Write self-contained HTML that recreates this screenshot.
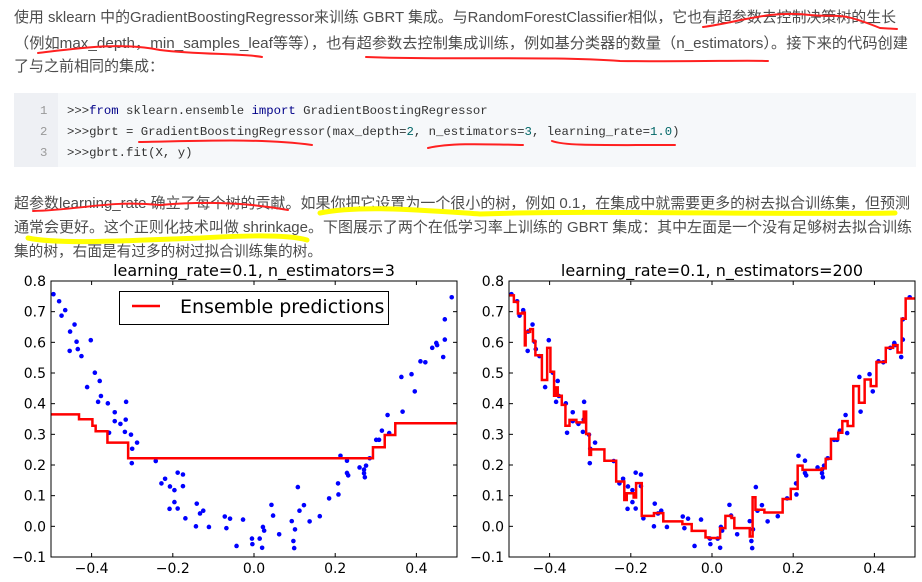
<!DOCTYPE html>
<html><head><meta charset="utf-8">
<style>
html,body{margin:0;padding:0;background:#fff;}
svg{display:block;}
.cn{font-family:"Liberation Sans","Noto Sans CJK SC",sans-serif;font-size:15px;fill:#4d4d4d;}
.code{font-family:"Liberation Mono","DejaVu Sans Mono",monospace;font-size:12.3px;fill:#333;}
.ln{font-family:"Liberation Mono",monospace;font-size:12.3px;fill:#999;}
.tick{font-family:"DejaVu Sans","Liberation Sans",sans-serif;font-size:14px;fill:#000;}
.ttl{font-family:"DejaVu Sans","Liberation Sans",sans-serif;font-size:16px;fill:#000;}
</style></head>
<body>
<svg id="page" width="922" height="582" viewBox="0 0 922 582" xmlns="http://www.w3.org/2000/svg">
  <rect width="922" height="582" fill="#fff"/>
  <g>
    <text class="cn" x="14" y="22" textLength="882" lengthAdjust="spacingAndGlyphs">使用 sklearn 中的GradientBoostingRegressor来训练 GBRT 集成。与RandomForestClassifier相似，它也有超参数去控制决策树的生长</text>
    <text class="cn" x="14" y="48" textLength="894" lengthAdjust="spacingAndGlyphs">（例如max_depth，min_samples_leaf等等），也有超参数去控制集成训练，例如基分类器的数量（n_estimators）。接下来的代码创建</text>
    <text class="cn" x="14" y="71">了与之前相同的集成：</text>
  </g>
  <g>
    <rect x="14" y="93" width="902" height="74" fill="#f6f8fa"/>
    <rect x="14" y="93" width="44" height="74" fill="#eef0f4"/>
    <text class="ln" x="40" y="114">1</text>
    <text class="ln" x="40" y="135">2</text>
    <text class="ln" x="40" y="156">3</text>
    <text class="code" x="67" y="114">&gt;&gt;&gt;<tspan fill="#000088">from</tspan> sklearn.ensemble <tspan fill="#000088">import</tspan> GradientBoostingRegressor</text>
    <text class="code" x="67" y="135">&gt;&gt;&gt;gbrt = GradientBoostingRegressor(max_depth=<tspan fill="#006666">2</tspan>, n_estimators=<tspan fill="#006666">3</tspan>, learning_rate=<tspan fill="#006666">1.0</tspan>)</text>
    <text class="code" x="67" y="156">&gt;&gt;&gt;gbrt.fit(X, y)</text>
  </g>
  <g>
    <text class="cn" x="14" y="208" textLength="896" lengthAdjust="spacingAndGlyphs">超参数learning_rate 确立了每个树的贡献。如果你把它设置为一个很小的树，例如 0.1，在集成中就需要更多的树去拟合训练集，但预测</text>
    <text class="cn" x="14" y="232" textLength="898" lengthAdjust="spacingAndGlyphs">通常会更好。这个正则化技术叫做 shrinkage。下图展示了两个在低学习率上训练的 GBRT 集成：其中左面是一个没有足够树去拟合训练</text>
    <text class="cn" x="14" y="256" textLength="308" lengthAdjust="spacingAndGlyphs">集的树，右面是有过多的树过拟合训练集的树。</text>
  </g>
  <g fill="none" stroke-linecap="round">
    <path d="M703,27 C740,22 770,10 810,15 C840,18 835,10 880,28 L897,29" stroke="#ff2020" stroke-width="2"/>
    <path d="M38,53 C80,48 120,42 160,50 C200,55 240,53 262,57" stroke="#ff2020" stroke-width="2"/>
    <path d="M366,57 C450,60 550,56 620,61 C700,62 740,60 768,61" stroke="#ff2020" stroke-width="2"/>
    <path d="M139,142 C200,141 260,138 312,145" stroke="#ff2020" stroke-width="2"/>
    <path d="M428,148 C450,143 480,144 523,145" stroke="#ff2020" stroke-width="2"/>
    <path d="M552,141 C565,146 600,145 675,145" stroke="#ff2020" stroke-width="2"/>
    <path d="M33,211 C80,210 110,200 160,205 C220,200 260,205 288,210" stroke="#ff2020" stroke-width="2"/>
    <path d="M320,213 C360,205 420,210 480,214 C600,210 750,215 895,213" stroke="#ffff00" stroke-width="5"/>
    <path d="M28,238 C60,245 140,240 200,238 C250,235 290,235 307,240" stroke="#ffff00" stroke-width="5"/>
  </g>
  <rect x="0" y="258" width="922" height="324" fill="#fff"/>
  <g id="charts"></g>
</svg>
<script>
const xsData = [-0.494,-0.480,-0.474,-0.465,-0.453,-0.442,-0.437,-0.454,-0.434,-0.425,-0.402,-0.411,-0.392,-0.380,-0.377,-0.384,-0.360,-0.343,-0.343,-0.329,-0.315,-0.316,-0.318,-0.357,-0.303,-0.300,-0.288,-0.301,-0.242,-0.228,-0.219,-0.207,-0.196,-0.188,-0.175,-0.175,-0.196,-0.208,-0.188,-0.169,-0.141,-0.133,-0.125,-0.143,-0.111,-0.072,-0.059,-0.068,-0.043,-0.027,-0.005,-0.004,0.014,0.020,0.022,0.025,0.043,0.047,0.062,0.093,0.097,0.099,0.101,0.108,0.112,0.123,0.137,0.162,0.185,0.208,0.207,0.213,0.229,0.229,0.232,0.260,0.271,0.271,0.273,0.276,0.285,0.301,0.308,0.315,0.333,0.329,0.363,0.366,0.388,0.396,0.410,0.422,0.439,0.449,0.451,0.466,0.470,0.470,0.487];
const ysData = [0.757,0.734,0.687,0.705,0.635,0.658,0.602,0.572,0.578,0.555,0.607,0.454,0.501,0.474,0.425,0.406,0.401,0.372,0.343,0.334,0.406,0.348,0.308,0.305,0.299,0.253,0.273,0.206,0.213,0.140,0.155,0.130,0.118,0.175,0.169,0.131,0.079,0.057,0.058,0.026,0.074,0.042,0.051,0.000,-0.002,0.032,0.025,-0.006,-0.064,0.022,-0.040,-0.058,-0.040,-0.070,-0.002,-0.014,0.070,0.035,-0.026,0.017,-0.048,-0.071,-0.010,0.128,0.051,0.069,0.016,0.033,0.091,0.104,0.140,0.230,0.214,0.174,0.166,0.192,0.185,0.173,0.160,0.198,0.222,0.282,0.282,0.312,0.304,0.363,0.487,0.374,0.496,0.440,0.538,0.535,0.582,0.598,0.591,0.552,0.609,0.675,0.747];
const leftEdges = [-0.431,-0.398,-0.390,-0.361,-0.310,0.293,0.322,0.348];
const leftVals = [0.365,0.349,0.328,0.310,0.273,0.222,0.258,0.298,0.336];
const rightEdges = [-0.488,-0.478,-0.467,-0.461,-0.459,-0.448,-0.441,-0.435,-0.419,-0.406,-0.398,-0.389,-0.384,-0.380,-0.370,-0.361,-0.351,-0.334,-0.316,-0.310,-0.302,-0.298,-0.265,-0.236,-0.216,-0.210,-0.193,-0.187,-0.173,-0.143,-0.120,-0.073,-0.050,-0.016,-0.009,0.020,0.033,0.048,0.055,0.093,0.100,0.107,0.129,0.174,0.194,0.211,0.223,0.270,0.280,0.293,0.311,0.321,0.334,0.348,0.362,0.376,0.391,0.405,0.428,0.446,0.457,0.467,0.477];
const rightVals = [0.753,0.732,0.694,0.697,0.590,0.634,0.643,0.604,0.558,0.477,0.582,0.504,0.426,0.453,0.426,0.396,0.328,0.347,0.339,0.374,0.301,0.233,0.251,0.214,0.146,0.086,0.108,0.094,0.141,0.034,0.043,0.016,0.007,-0.015,-0.036,-0.038,-0.006,0.034,0.027,-0.006,-0.033,0.095,0.054,0.045,0.089,0.122,0.198,0.184,0.189,0.220,0.285,0.305,0.343,0.327,0.457,0.403,0.479,0.457,0.536,0.582,0.591,0.567,0.677,0.743];
const xTicks = [-0.4,-0.2,0.0,0.2,0.4];
const xTickLabels = ["\u22120.4","\u22120.2","0.0","0.2","0.4"];
const yTicks = [0.8,0.7,0.6,0.5,0.4,0.3,0.2,0.1,0.0,-0.1];
const yTickLabels = ["0.8","0.7","0.6","0.5","0.4","0.3","0.2","0.1","0.0","\u22120.1"];
const titles = ["learning_rate=0.1, n_estimators=3","learning_rate=0.1, n_estimators=200"];

const NS = "http://www.w3.org/2000/svg";
const root = document.getElementById('charts');
const TOP = 281, BOT = 557, W = 406;
function yScale(v){ return TOP + (0.8 - v) * (BOT - TOP) / 0.9; }
function mk(tag, attrs, parent){ const e = document.createElementNS(NS, tag); for (const k in attrs) e.setAttribute(k, attrs[k]); parent.appendChild(e); return e; }

function drawChart(idx, left, edges, vals, legend){
  const xScale = v => left + (v + 0.5) * W;
  const g = mk('g', {}, root);
  
  
  const t = mk('text', {x: left + W/2, y: 276, 'text-anchor': 'middle', class: 'ttl'}, g);
  t.textContent = titles[idx];
  
  
  // points
  for (let i = 0; i < xsData.length; i++){
    const c = mk('circle', {cx: xScale(xsData[i]), cy: yScale(ysData[i]), r: 2.3, fill: '#0000ff'}, g);
    
    
  }
  // step line
  let d = 'M' + xScale(-0.5) + ',' + yScale(vals[0]);
  for (let i = 0; i < edges.length; i++){
    d += ' H' + xScale(edges[i]) + ' V' + yScale(vals[i+1]);
  }
  d += ' H' + xScale(0.5);
  const p = mk('path', {d: d, fill: 'none', stroke: '#ff0000', 'stroke-width': 2.5}, g);
  
  
  // frame
  const f = mk('rect', {x: left, y: TOP, width: W, height: BOT - TOP, fill: 'none', stroke: '#000', 'stroke-width': 1}, g);
  
  
  // ticks
  xTicks.forEach((v, i) => {
    const x = xScale(v);
    mk('line', {x1: x, x2: x, y1: BOT, y2: BOT - 4, stroke: '#000'}, g);
    mk('line', {x1: x, x2: x, y1: TOP, y2: TOP + 4, stroke: '#000'}, g);
    const l = mk('text', {x: x, y: 573, 'text-anchor': 'middle', class: 'tick'}, g);
    l.textContent = xTickLabels[i];
    
    
  });
  yTicks.forEach((v, i) => {
    const y = yScale(v);
    mk('line', {x1: left, x2: left + 4, y1: y, y2: y, stroke: '#000'}, g);
    mk('line', {x1: left + W, x2: left + W - 4, y1: y, y2: y, stroke: '#000'}, g);
    const l = mk('text', {x: left - 5, y: y + 5, 'text-anchor': 'end', class: 'tick'}, g);
    l.textContent = yTickLabels[i];
    
    
  });
  if (legend){
    const lg = mk('g', {}, g);
    
    
    mk('rect', {x: 119.5, y: 291.5, width: 269, height: 33, fill: '#fff', stroke: '#000', 'stroke-width': 1}, lg);
    mk('line', {x1: 132, x2: 160, y1: 306, y2: 306, stroke: '#ff0000', 'stroke-width': 2.5}, lg);
    const lt = mk('text', {x: 180, y: 313, class: 'ttl', 'font-size': '19'}, lg);
    lt.setAttribute('style', 'font-size:19px');
    lt.textContent = 'Ensemble predictions';
    
    
  }
}
drawChart(0, 51, leftEdges, leftVals, true);
drawChart(1, 509, rightEdges, rightVals, false);
</script>
</body></html>
